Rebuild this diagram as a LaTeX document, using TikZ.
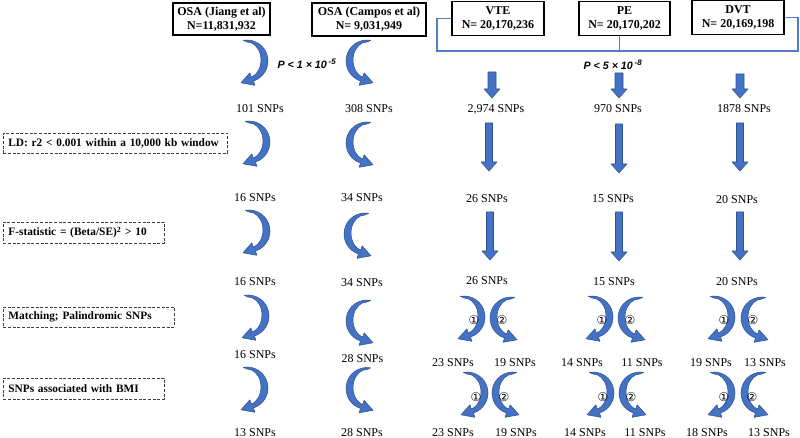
\documentclass[tikz,border=0pt]{standalone}
\usepackage{fontspec}
\setmainfont{Liberation Serif}
\newfontfamily\pfont{Liberation Sans}
\newfontfamily\symfont{DejaVu Sans}
\definecolor{arrfill}{RGB}{68,114,196}
\definecolor{arrline}{RGB}{47,82,143}
\definecolor{brk}{RGB}{80,125,200}
\tikzset{
  arr/.style={fill=arrfill, draw=arrline, line width=0.4pt, line join=round},
  hbox/.style={draw, line width=1pt, align=center, font=\fontsize{9}{10.5}\selectfont\bfseries, inner sep=0pt},
  dbox/.style={draw=black!75, dash pattern=on 2.2pt off 1.3pt, line width=0.6pt, align=left,
    font=\fontsize{8.5}{10}\selectfont\bfseries, inner xsep=3.75pt, inner ysep=0pt, anchor=west},
  snp/.style={font=\fontsize{9}{10}\selectfont, inner sep=0pt},
  pval/.style={font=\pfont\fontsize{8}{9}\selectfont\bfseries\itshape, inner sep=0pt},
  num/.style={font=\symfont\fontsize{9}{10}\selectfont, inner sep=0pt},
  brkline/.style={draw=brk, line width=0.8pt},
  curvR/.pic={\path[arr] (-100:21 and 21) arc[start angle=-100, end angle=72, x radius=21, y radius=21]
      -- (7.9,24.3) -- (-6,21.8) -- (2.9,11.8) -- (4.33,16.12)
      arc[start angle=72, end angle=-90, x radius=14, y radius=18] -- cycle;},
  curvL/.pic={\path[arr] (280:21 and 21) arc[start angle=280, end angle=108, x radius=21, y radius=21]
      -- (-7.9,24.3) -- (6,21.8) -- (-2.9,11.8) -- (-4.33,16.12)
      arc[start angle=108, end angle=270, x radius=14, y radius=18] -- cycle;}
}
\newcommand\blockdown[4]{% x, ytop, ybot, shaft half width
  \path[arr] ({#1-#4},#2) -- ({#1+#4},#2) -- ({#1+#4},{#3-9}) -- ({#1+8},{#3-9}) -- (#1,#3)
    -- ({#1-8},{#3-9}) -- ({#1-#4},{#3-9}) -- cycle;}
\begin{document}
\begin{tikzpicture}[x=0.75pt, y=-0.75pt]
\useasboundingbox (0,0) rectangle (800,438);

% top boxes
\node[hbox, minimum width=72.75pt, minimum height=24pt] (jiang) at (221.5,19) {OSA (Jiang et al)\\N=11,831,932};
\node[hbox, minimum width=85.5pt, minimum height=24.75pt] (campos) at (369,19.5) {OSA (Campos et al)\\N= 9,031,949};
\node[hbox, minimum width=69pt, minimum height=25.5pt] (vte) at (498,18.5) {VTE\\N= 20,170,236};
\node[hbox, minimum width=68.25pt, minimum height=25.5pt] (pe) at (624.5,18.5) {PE\\N= 20,170,202};
\node[hbox, minimum width=69pt, minimum height=25.5pt] (dvt) at (738,17.5) {DVT\\N= 20,169,198};

% bracket
\coordinate (bl) at (437,51);
\coordinate (br) at (798,51);
\draw[brkline] (vte.west) -| (bl) -- (br) |- (dvt.east);
\draw[brkline] ([xshift=-4.1pt]pe.south) -- ([xshift=-4.1pt]pe.south |- bl);

% p-values
\node[pval] (p1) at (307,64) {P < 1 × 10\,\textsuperscript{-5}};
\node[pval] (p2) at (613,65) {P < 5 × 10\,\textsuperscript{-8}};

% dashed criteria boxes
\node[dbox, text width=160.5pt, minimum height=15pt] (ld) at (3,143) {LD: r2 < 0.001 within a 10,000 kb window};
\node[dbox, text width=113.25pt, minimum height=15.75pt] (fs) at (3,232.5) {F-statistic = (Beta/SE)\textsuperscript{2} > 10};
\node[dbox, text width=120.75pt, minimum height=15pt] (mp) at (3,317) {Matching; Palindromic SNPs};
\node[dbox, text width=113.25pt, minimum height=15.75pt] (bmi) at (3,388.5) {SNPs associated with BMI};

% OSA columns: curved arrows
\pic at (247,61) {curvR};
\pic at (249,142) {curvR};
\pic at (249,231) {curvR};
\pic at (248,316) {curvR};
\pic at (247,388) {curvR};
\pic at (367,61) {curvL};
\pic at (367,143) {curvL};
\pic at (365,234) {curvL};
\pic at (367,321) {curvL};
\pic at (367,388.5) {curvL};

\node[snp] (j1) at (260,109) {101 SNPs};
\node[snp] (j2) at (255,198) {16 SNPs};
\node[snp] (j3) at (255,282) {16 SNPs};
\node[snp] (j4) at (255,355) {16 SNPs};
\node[snp] (j5) at (255,433) {13 SNPs};
\node[snp] (c1) at (369,109) {308 SNPs};
\node[snp] (c2) at (362,198) {34 SNPs};
\node[snp] (c3) at (362,283) {34 SNPs};
\node[snp] (c4) at (362.5,359) {28 SNPs};
\node[snp] (c5) at (362,433) {28 SNPs};

% VTE / PE / DVT straight arrows
\blockdown{492}{72}{98}{4}
\blockdown{619}{73}{98}{4}
\blockdown{740}{74}{98}{4}
\blockdown{489}{123}{171}{3.5}
\blockdown{619}{124}{173}{3.5}
\blockdown{740}{123}{171}{3.5}
\blockdown{490}{212}{260}{3.5}
\blockdown{619}{212}{261}{3.5}
\blockdown{740}{212}{260}{3.5}

\node[snp] (v1) at (496,109) {2,974 SNPs};
\node[snp] (e1) at (618,109) {970 SNPs};
\node[snp] (d1) at (744,109) {1878 SNPs};
\node[snp] (v2) at (487,199) {26 SNPs};
\node[snp] (e2) at (613,199) {15 SNPs};
\node[snp] (d2) at (737,200) {20 SNPs};
\node[snp] (v3) at (487,281) {26 SNPs};
\node[snp] (e3) at (614,282) {15 SNPs};
\node[snp] (d3) at (737,282) {20 SNPs};

% pair arrows row 1
\pic at (464,317) {curvR}; \pic at (511,318) {curvL};
\pic at (592,317) {curvR}; \pic at (639,318) {curvL};
\pic at (714,317) {curvR}; \pic at (762,318) {curvL};
\node[num] (n11) at (474,320) {①}; \node[num] (n12) at (502,320) {②};
\node[num] (n13) at (602,320) {①}; \node[num] (n14) at (630,320) {②};
\node[num] (n15) at (724,320) {①}; \node[num] (n16) at (753,320) {②};

% pair arrows row 2
\pic at (467,393) {curvR}; \pic at (513,393) {curvL};
\pic at (593,393) {curvR}; \pic at (640,393) {curvL};
\pic at (714,393) {curvR}; \pic at (762,393) {curvL};
\node[num] (n21) at (476,397) {①}; \node[num] (n22) at (504,397) {②};
\node[num] (n23) at (603,397) {①}; \node[num] (n24) at (631,397) {②};
\node[num] (n25) at (724,397) {①}; \node[num] (n26) at (752,397) {②};

\node[snp] (r11) at (453,363) {23 SNPs};
\node[snp] (r12) at (515,363) {19 SNPs};
\node[snp] (r13) at (582,363) {14 SNPs};
\node[snp] (r14) at (642,363) {11 SNPs};
\node[snp] (r15) at (711,363) {19 SNPs};
\node[snp] (r16) at (765,363) {13 SNPs};
\node[snp] (r21) at (453,433) {23 SNPs};
\node[snp] (r22) at (516,433) {19 SNPs};
\node[snp] (r23) at (585,433) {14 SNPs};
\node[snp] (r24) at (645,433) {11 SNPs};
\node[snp] (r25) at (707,433) {18 SNPs};
\node[snp] (r26) at (769,433) {13 SNPs};
\end{tikzpicture}
\end{document}
